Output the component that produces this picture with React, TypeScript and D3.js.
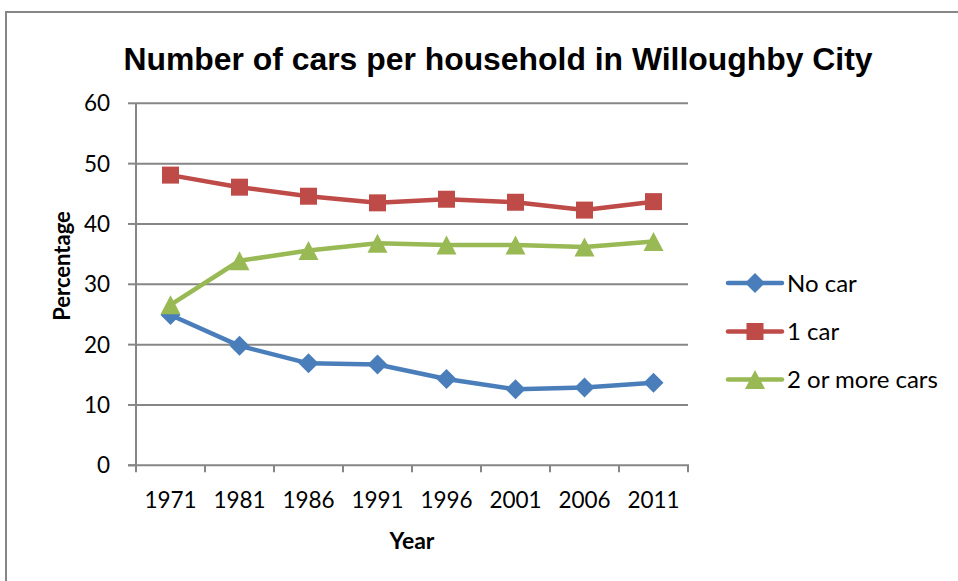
import React from 'react';
import * as d3 from 'd3';

const years = ['1971', '1981', '1986', '1991', '1996', '2001', '2006', '2011'];
const noCar = [24.9, 19.8, 16.9, 16.7, 14.3, 12.6, 12.9, 13.7];
const oneCar = [48.1, 46.1, 44.6, 43.5, 44.1, 43.6, 42.3, 43.7];
const twoPlus = [26.6, 33.9, 35.6, 36.8, 36.5, 36.5, 36.2, 37.1];
const yTicks = [0, 10, 20, 30, 40, 50, 60];
const seriesNames = ['No car', '1 car', '2 or more cars'];
const seriesColors = ['#4A7EBB', '#BE4B48', '#98B954'];
const seriesMarkers = ['diamond', 'square', 'triangle'];

const W = 958;
const H = 581;
const plot = { left: 136, right: 688, top: 103.3, bottom: 465.3 };
const txtFont = 'Lato, "Open Sans", sans-serif';

function Marker({ type, x, y, color }: { type: string; x: number; y: number; color: string }) {
  if (type === 'square') {
    return <rect x={x - 8.5} y={y - 8.5} width={17} height={17} fill={color} />;
  }
  if (type === 'diamond') {
    const r = 10;
    return <path d={`M${x},${y - r}L${x + r},${y}L${x},${y + r}L${x - r},${y}Z`} fill={color} />;
  }
  const hw = 10, hh = 9.5;
  return <path d={`M${x},${y - hh}L${x + hw},${y + hh}L${x - hw},${y + hh}Z`} fill={color} />;
}

export default function App() {
  const x = d3.scaleBand<string>().domain(years).range([plot.left, plot.right]).paddingInner(0).paddingOuter(0);
  const y = d3.scaleLinear().domain([0, 60]).range([plot.bottom, plot.top]);
  const cx = (yr: string) => (x(yr) as number) + x.bandwidth() / 2;
  const data = [noCar, oneCar, twoPlus];
  const line = d3.line<number>().x((_, i) => cx(years[i])).y((v) => y(v));
  const boundaries = [...years.map((yr) => x(yr) as number), plot.right];
  const legendX = 728;
  const legendY = [283, 331.5, 379.5];

  return (
    <svg width={W} height={H} style={{ position: 'absolute', left: 0, top: 0, background: '#fff' }}>
      <rect x={0} y={0} width={W} height={H} fill="#fff" />
      <rect x={6} y={12} width={W + 20} height={H + 20} fill="none" stroke="#868686" strokeWidth={2} />
      <text x={498} y={70} textAnchor="middle" fontFamily='"Liberation Sans", Arial, sans-serif' fontWeight="bold" fontSize={31.9} fill="#000">
        Number of cars per household in Willoughby City
      </text>
      {yTicks.map((t) => (
        <g key={t}>
          {t > 0 && <line x1={plot.left} x2={plot.right} y1={y(t)} y2={y(t)} stroke="#868686" strokeWidth={2} />}
          <line x1={plot.left - 8} x2={plot.left} y1={y(t)} y2={y(t)} stroke="#868686" strokeWidth={2} />
          <text x={110} y={y(t)} dy="0.36em" textAnchor="end" fontFamily={txtFont} fontSize={22.5} fill="#000">
            {t}
          </text>
        </g>
      ))}
      <line x1={plot.left} x2={plot.left} y1={plot.top} y2={plot.bottom} stroke="#868686" strokeWidth={2} />
      <line x1={plot.left - 8} x2={plot.right + 1} y1={plot.bottom} y2={plot.bottom} stroke="#868686" strokeWidth={2} />
      {boundaries.map((b, i) => (
        <line key={i} x1={b} x2={b} y1={plot.bottom} y2={plot.bottom + 7} stroke="#868686" strokeWidth={2} />
      ))}
      {years.map((yr) => (
        <text key={yr} x={cx(yr)} y={508} textAnchor="middle" fontFamily={txtFont} fontSize={22.5} fill="#000">
          {yr}
        </text>
      ))}
      <text x={412} y={549} textAnchor="middle" fontFamily={txtFont} fontWeight="bold" fontSize={23} fill="#000">
        Year
      </text>
      <text transform="translate(70,266) rotate(-90)" textAnchor="middle" fontFamily={txtFont} fontWeight="bold" fontSize={22} fill="#000">
        Percentage
      </text>
      {data.map((vals, si) => (
        <g key={si}>
          <path d={line(vals) as string} fill="none" stroke={seriesColors[si]} strokeWidth={4.5} strokeLinejoin="round" strokeLinecap="round" />
          {vals.map((v, i) => (
            <Marker key={i} type={seriesMarkers[si]} x={cx(years[i])} y={y(v)} color={seriesColors[si]} />
          ))}
        </g>
      ))}
      {seriesNames.map((n, si) => (
        <g key={n}>
          <line x1={legendX} x2={legendX + 54} y1={legendY[si]} y2={legendY[si]} stroke={seriesColors[si]} strokeWidth={4.5} strokeLinecap="round" />
          <Marker type={seriesMarkers[si]} x={legendX + 27} y={legendY[si]} color={seriesColors[si]} />
          <text x={787} y={legendY[si]} dy="0.36em" fontFamily={txtFont} fontSize={24} fill="#000">
            {n}
          </text>
        </g>
      ))}
    </svg>
  );
}
